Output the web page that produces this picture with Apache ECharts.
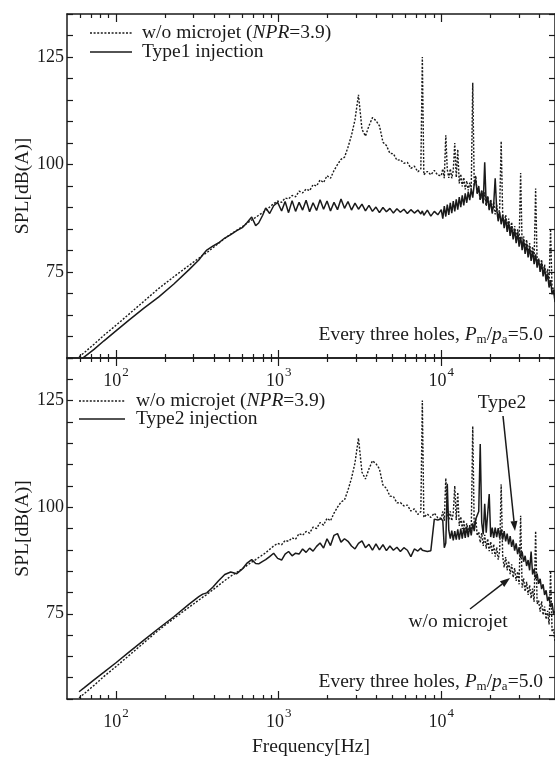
<!DOCTYPE html>
<html>
<head>
<meta charset="utf-8">
<script src="https://cdn.jsdelivr.net/npm/echarts@6/dist/echarts.min.js"></script>
<style>
html,body{margin:0;padding:0;background:#fff;}
#c{width:555px;height:758px;}
</style>
</head>
<body>
<div id="c"></div>
<script>
// ---- data ----
const freqHz = [
  59.3, 63.6, 73.3, 84.4, 100, 120.2, 148.5, 183.5, 226.9, 280.5,
  323, 341.8, 361.6, 393.6, 428.5, 466.4, 507.6, 552.6, 601.5, 636.5,
  683, 722.6, 754, 797.8, 832.3, 880.6, 931.8, 986,
  1043, 1096, 1151, 1210, 1271, 1336, 1404, 1475, 1550, 1628,
  1711, 1798, 1889, 1984, 2084, 2190, 2301, 2418, 2541, 2669,
  2805, 2947, 3096, 3253, 3418, 3592, 3774, 3965, 4166, 4377,
  4599, 4831, 5076, 5334, 5604, 5888, 6186, 6500, 6829, 7175,
  7485, 7646, 7810, 8206, 8622, 9060, 9518,
  10000, 10214, 10433, 10656, 10884, 11117, 11355, 11598, 11846, 12100,
  12359, 12623, 12894, 13170, 13452, 13740, 14034, 14334, 14641, 14955,
  15275, 15606, 15940, 16281, 16630, 16986, 17350, 17721, 18101, 18488,
  18884, 19288, 19701, 20123, 20554, 20994, 21444, 21903, 22372, 22851,
  23340, 23840, 24350, 24872, 25404, 25948, 26504, 27071, 27651, 28243,
  28848, 29465, 30096, 30741, 31399, 32071, 32758, 33459, 34176, 34907,
  35655, 36418, 37210, 38010, 38820, 39650, 40500, 41370, 42250, 43150,
  44080, 45020, 45980, 46970, 47970, 49000, 50000
];
// w/o microjet (NPR=3.9), same measurement in both panels
const noJet = [
  55.3, 56.2, 58.2, 60.3, 62.6, 65.2, 68.2, 71.2, 73.9, 76.5,
  78.2, 78.9, 79.5, 80.6, 81.7, 82.8, 83.8, 84.7, 85.6, 86.3,
  87.1, 87.7, 88.2, 88.8, 89.3, 90.1, 90.9, 91.5,
  91.2, 92.2, 92.0, 92.8, 92.5, 93.8, 93.4, 94.3, 93.9, 95.3,
  95.0, 96.4, 95.8, 97.4, 96.8, 98.6, 100.0, 101.2, 101.7, 104.0,
  106.8, 110.4, 116.2, 108.2, 106.6, 109.0, 110.9, 110.2, 109.0, 105.2,
  104.4, 102.6, 102.5, 101.0, 101.1, 100.3, 100.5, 99.1, 99.6, 98.3,
  99.0, 125.0, 97.6, 98.4, 97.6, 98.6, 97.5,
  97.4, 99.0, 96.8, 106.8, 98.8, 96.9, 99.0, 96.8, 98.6, 105.0,
  97.0, 103.5, 95.6, 97.8, 94.9, 97.0, 94.2, 96.2, 94.0, 95.8,
  94.2, 119.0, 95.0, 97.4, 93.3, 94.2, 91.7, 93.9, 90.9, 93.5,
  90.3, 92.6, 89.7, 91.9, 89.1, 91.3, 88.4, 90.6, 87.7, 89.9,
  105.4, 88.5, 85.9, 88.3, 85.2, 87.4, 84.3, 86.6, 83.5, 85.7,
  82.7, 84.9, 81.9, 98.0, 81.1, 83.3, 80.2, 82.5, 79.4, 81.7,
  78.6, 80.9, 77.8, 94.4, 77.3, 78.1, 75.5, 77.9, 74.7, 76.7,
  73.7, 75.7, 72.5, 85.0, 70.8, 71.3, 68.4
];
// Type1 injection (upper panel)
const type1 = [
  54.0, 55.2, 57.0, 59.0, 61.3, 63.8, 66.6, 69.2, 72.2, 75.5,
  77.8, 79.0, 80.1, 81.0, 81.8, 82.9, 83.7, 84.6, 85.4, 86.4,
  87.8, 85.8, 86.4, 88.2, 89.9, 88.6, 90.4, 91.2,
  89.2, 91.4, 88.8, 91.6, 89.1, 91.2, 89.4, 91.7, 89.0, 91.1,
  89.3, 91.8, 89.6, 91.5, 89.2, 91.2, 89.5, 92.0, 89.8, 91.4,
  89.4, 91.0, 89.6, 90.8, 89.2, 90.5, 89.1, 90.1, 88.8, 90.0,
  89.0, 89.8, 88.7, 89.7, 88.9, 89.6, 88.6, 89.5, 88.7, 89.4,
  88.5, 89.2, 88.2, 89.4, 88.0, 89.1, 88.3,
  89.5, 87.4, 90.3, 87.9, 90.7, 88.3, 91.1, 88.7, 91.5, 89.1,
  91.9, 89.5, 92.4, 90.1, 92.8, 90.5, 93.3, 91.1, 93.7, 91.7,
  94.3, 92.3, 95.5, 96.5, 93.2, 95.0, 91.8, 93.9, 91.0, 100.5,
  90.6, 92.6, 89.4, 91.6, 88.6, 90.8, 96.8, 89.6, 86.8, 89.0,
  86.1, 88.3, 85.2, 87.5, 84.3, 86.6, 83.4, 85.7, 82.6, 84.9,
  81.7, 84.1, 80.9, 83.2, 80.1, 82.4, 79.2, 81.6, 78.4, 80.7,
  77.6, 79.9, 76.8, 79.1, 76.0, 78.1, 75.0, 77.2, 74.0, 76.0,
  72.8, 74.6, 71.4, 73.1, 69.8, 70.8, 68.0
];
// Type2 injection (lower panel)
const type2 = [
  56.7, 57.6, 59.5, 61.3, 63.5, 66.0, 68.8, 71.6, 74.3, 77.2,
  79.0, 79.6, 79.9, 81.2, 82.8, 84.2, 84.8, 84.4, 85.6, 86.8,
  87.7, 86.8, 86.7, 87.3, 87.7, 88.4, 89.2, 88.0,
  87.6, 89.0, 89.6, 88.6, 89.2, 89.0, 90.2, 89.4, 90.4, 89.7,
  90.8, 91.6, 90.4, 92.6, 91.0, 93.4, 93.8, 91.8, 92.6, 92.0,
  90.9, 90.2, 91.5, 92.1, 90.5, 91.3, 89.9, 91.4, 90.0, 91.2,
  89.8, 90.9, 89.9, 90.6, 89.6, 90.5, 89.9, 88.4, 90.2, 89.7,
  90.4, 89.9, 90.1, 89.6, 89.8, 97.2, 97.0,
  97.3, 96.8, 90.5, 91.6, 105.5, 94.6, 92.6, 94.5, 92.2, 94.4,
  92.4, 94.8, 92.4, 95.0, 92.6, 95.2, 92.8, 95.4, 93.0, 95.6,
  93.4, 96.2, 94.4, 97.2, 97.5, 99.0, 114.8, 96.4, 93.6, 100.8,
  94.0, 94.0, 103.1, 93.0, 95.2, 92.8, 95.2, 93.0, 95.1, 92.8,
  94.8, 92.4, 94.4, 92.0, 93.8, 91.3, 93.2, 90.7, 92.4, 89.8,
  91.5, 89.0, 90.6, 88.1, 89.6, 87.2, 88.6, 86.2, 87.6, 85.2,
  89.6, 84.2, 85.5, 83.2, 84.4, 82.0, 83.2, 80.8, 81.9, 79.4,
  80.5, 78.0, 79.0, 76.6, 77.5, 75.0, 75.6
];
// axes / ticks
const freqRange = [50, 50000];
const decadeExponents = [2, 3, 4];
const minorTickHz = [60, 70, 80, 90, 200, 300, 400, 500, 600, 700, 800, 900,
  2000, 3000, 4000, 5000, 6000, 7000, 8000, 9000, 20000, 30000, 40000];
const splRange = [55, 135];
const splStep = 5;
const splLabelTicks = [75, 100, 125];

// ---- chart ----
const L = Math.log10;
const serif = '"Liberation Serif", "Times New Roman", serif';
const ink = '#1a1a1a';
const grids = [
  { left: 67, top: 14, width: 490, height: 344 },
  { left: 67, top: 358, width: 490, height: 344 }
];

function xAxesFor(g, withName) {
  const base = { gridIndex: g, type: 'value', min: L(freqRange[0]), max: L(freqRange[1]),
    splitLine: { show: false }, axisPointer: { show: false } };
  const line = { show: true, onZero: false, lineStyle: { color: ink, width: 1.5 } };
  const tickStyle = { color: ink, width: 1.2 };
  return [
    Object.assign({}, base, {
      position: 'bottom',
      axisLine: line,
      axisTick: { show: true, inside: true, length: 4, customValues: minorTickHz.map(L), lineStyle: tickStyle },
      axisLabel: {
        show: true, customValues: decadeExponents, margin: 8,
        formatter: v => '{b|10}{s|' + Math.round(v) + '}',
        rich: {
          b: { fontSize: 18, fontFamily: serif, color: ink },
          s: { fontSize: 13, fontFamily: serif, color: ink, padding: [0, 0, 18, 1] }
        }
      },
      name: withName ? 'Frequency[Hz]' : '',
      nameLocation: 'middle', nameGap: 38, nameMoveOverlap: false,
      nameTextStyle: { fontSize: 19.5, fontFamily: serif, color: ink }
    }),
    Object.assign({}, base, {
      position: 'bottom',
      axisLine: { show: false },
      axisTick: { show: true, inside: true, length: 8, customValues: decadeExponents, lineStyle: tickStyle },
      axisLabel: { show: false }
    }),
    Object.assign({}, base, {
      position: 'top',
      axisLine: line,
      axisTick: { show: true, inside: true, length: 4, customValues: minorTickHz.map(L), lineStyle: tickStyle },
      axisLabel: { show: false }
    }),
    Object.assign({}, base, {
      position: 'top',
      axisLine: { show: false },
      axisTick: { show: true, inside: true, length: 8, customValues: decadeExponents, lineStyle: tickStyle },
      axisLabel: { show: false }
    })
  ];
}
function yAxesFor(g) {
  const base = { gridIndex: g, type: 'value', min: splRange[0], max: splRange[1], interval: splStep,
    splitLine: { show: false },
    axisLine: { show: true, onZero: false, lineStyle: { color: ink, width: 1.5 } },
    axisTick: { show: true, inside: true, length: 6, lineStyle: { color: ink, width: 1.2 } } };
  return [
    Object.assign({}, base, {
      position: 'left',
      axisLabel: { show: true, customValues: splLabelTicks, margin: 3, fontSize: 18, fontFamily: serif, color: ink },
      name: 'SPL[dB(A)]', nameLocation: 'middle', nameGap: 34, nameMoveOverlap: false,
      nameTextStyle: { fontSize: 19.5, fontFamily: serif, color: ink }
    }),
    Object.assign({}, base, { position: 'right', axisLabel: { show: false } })
  ];
}
function lineSeries(name, vals, xi, yi, dashed) {
  return {
    type: 'line', name: name, xAxisIndex: xi, yAxisIndex: yi,
    data: freqHz.map((f, i) => [L(f), vals[i]]),
    showSymbol: false, symbol: 'none', clip: true, silent: true, animation: false,
    lineStyle: { color: ink, width: dashed ? 1.4 : 1.5, type: dashed ? [2, 1.6] : 'solid', join: 'bevel' }
  };
}

const txt = (x, y, text, align, extra) => ({
  type: 'text', x: x, y: y, silent: true,
  style: Object.assign({
    text: text, fontSize: 19.5, fontFamily: serif, fill: ink,
    align: align, verticalAlign: 'middle', textAlign: align, textVerticalAlign: 'middle',
    rich: {
      i: { fontSize: 19.5, fontFamily: serif, fontStyle: 'italic', fill: ink },
      sub: { fontSize: 13, fontFamily: serif, fill: ink, padding: [10, 0, 0, 0] }
    }
  }, extra || {})
});
const seg = (x1, y1, x2, y2, dashed) => ({
  type: 'line', silent: true, shape: { x1: x1, y1: y1, x2: x2, y2: y2 },
  style: { stroke: ink, lineWidth: dashed ? 1.3 : 1.5, lineDash: dashed ? [2, 1.6] : null }
});
function arrow(x1, y1, x2, y2) {
  const a = Math.atan2(y2 - y1, x2 - x1), hl = 10, hw = 3.5;
  const bx = x2 - hl * Math.cos(a), by = y2 - hl * Math.sin(a);
  return [
    seg(x1, y1, bx, by, false),
    { type: 'polygon', silent: true,
      shape: { points: [[x2, y2], [bx + hw * Math.sin(a), by - hw * Math.cos(a)], [bx - hw * Math.sin(a), by + hw * Math.cos(a)]] },
      style: { fill: ink } }
  ];
}
const condText = 'Every three holes, {i|P}{sub|m}/{i|p}{sub|a}=5.0';
const noJetLabel = 'w/o microjet ({i|NPR}=3.9)';

const chart = echarts.init(document.getElementById('c'), null, { renderer: 'canvas' });
chart.setOption({
  animation: false,
  backgroundColor: '#fff',
  grid: grids,
  xAxis: xAxesFor(0, false).concat(xAxesFor(1, true)),
  yAxis: yAxesFor(0).concat(yAxesFor(1)),
  series: [
    lineSeries('w/o microjet (NPR=3.9)', noJet, 0, 0, true),
    lineSeries('Type1 injection', type1, 0, 0, false),
    lineSeries('w/o microjet (NPR=3.9) ', noJet, 4, 2, true),
    lineSeries('Type2 injection', type2, 4, 2, false)
  ],
  graphic: [
    seg(90, 33, 132, 33, true), txt(142, 33, noJetLabel, 'left'),
    seg(90, 52, 132, 52, false), txt(142, 52, 'Type1 injection', 'left'),
    txt(543, 335, condText, 'right'),
    seg(79, 401, 125, 401, true), txt(136, 401, noJetLabel, 'left'),
    seg(79, 419, 125, 419, false), txt(136, 419, 'Type2 injection', 'left'),
    txt(543, 682, condText, 'right'),
    txt(502, 403, 'Type2', 'center'),
    txt(458, 622, 'w/o microjet', 'center')
  ].concat(arrow(503, 416, 515, 531), arrow(470, 609, 510, 578))
});
</script>
</body>
</html>
